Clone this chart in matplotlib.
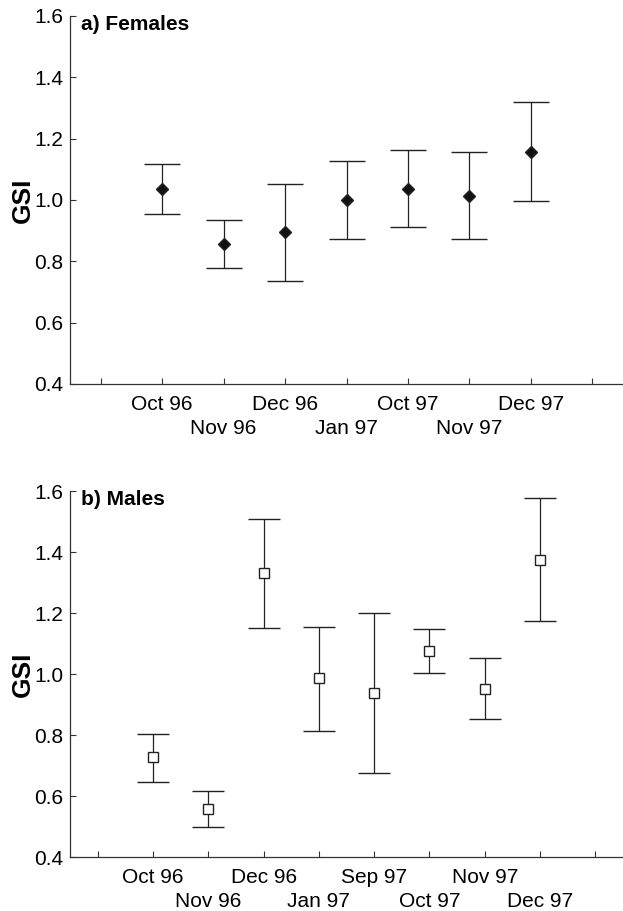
import matplotlib
matplotlib.use("Agg")
import matplotlib.pyplot as plt

plt.rcParams['font.family'] = ['Liberation Sans', 'DejaVu Sans']

# a) Females
fem_labels = ["Oct 96", "Nov 96", "Dec 96", "Jan 97", "Oct 97", "Nov 97", "Dec 97"]
fem_mean = [1.036, 0.855, 0.895, 1.000, 1.037, 1.014, 1.157]
fem_upper = [1.118, 0.935, 1.053, 1.128, 1.163, 1.157, 1.320]
fem_lower = [0.954, 0.779, 0.737, 0.873, 0.912, 0.873, 0.997]

# b) Males
male_labels = ["Oct 96", "Nov 96", "Dec 96", "Jan 97", "Sep 97", "Oct 97", "Nov 97", "Dec 97"]
male_mean = [0.728, 0.558, 1.331, 0.986, 0.939, 1.075, 0.952, 1.375]
male_upper = [0.805, 0.616, 1.509, 1.155, 1.200, 1.148, 1.053, 1.576]
male_lower = [0.648, 0.499, 1.152, 0.814, 0.677, 1.005, 0.852, 1.173]

fig = plt.figure(figsize=(6.23, 9.11), dpi=100)
ax1 = fig.add_axes([0.1124, 0.5785, 0.8876, 0.404])
ax2 = fig.add_axes([0.1124, 0.0589, 0.8876, 0.4021])


def panel(ax, labels, mean, upper, lower, title, marker, face, ms, cap):
    n = len(labels)
    x = list(range(1, n + 1))
    err = [[m - lo for m, lo in zip(mean, lower)], [up - m for m, up in zip(mean, upper)]]
    ax.errorbar(x, mean, yerr=err, fmt=marker, color="#222222", ecolor="#222222",
                mfc=face, mec="#222222", ms=ms, mew=1.0, elinewidth=0.9,
                capsize=cap, capthick=0.9)
    ax.set_xlim(-0.5, n + 1.5)
    ax.set_ylim(0.4, 1.6)
    ax.set_yticks([0.4, 0.6, 0.8, 1.0, 1.2, 1.4, 1.6])
    ax.set_yticklabels(["0.4", "0.6", "0.8", "1.0", "1.2", "1.4", "1.6"])

    # first row of month labels on the major ticks, second row on minor ticks
    ax.xaxis.remove_overlapping_locs = False
    ax.set_xticks(range(0, n + 2))
    row1 = [""] + [lab if i % 2 == 0 else "" for i, lab in enumerate(labels)] + [""]
    ax.set_xticklabels(row1)
    row2_pos = [i + 1 for i in range(n) if i % 2 == 1]
    ax.set_xticks(row2_pos, minor=True)
    ax.set_xticklabels([labels[p - 1] for p in row2_pos], minor=True)

    ax.tick_params(direction="in", length=4, width=0.8, labelsize=15, color="#333333")
    ax.tick_params(axis="x", which="major", pad=8)
    ax.tick_params(axis="x", which="minor", length=0, pad=25, labelsize=15)
    ax.tick_params(axis="y", pad=5)
    for s in ["top", "right"]:
        ax.spines[s].set_visible(False)
    for s in ["left", "bottom"]:
        ax.spines[s].set_linewidth(0.9)
        ax.spines[s].set_color("#333333")
    ax.set_ylabel("GSI", fontsize=19, fontweight="bold")
    ax.yaxis.set_label_coords(-0.064, 0.5)
    ax.text(0.019, 1.003, title, transform=ax.transAxes, fontsize=15,
            fontweight="bold", va="top", ha="left")


panel(ax1, fem_labels, fem_mean, fem_upper, fem_lower, "a) Females", "D", "#111111", 6.5, 12.7)
panel(ax2, male_labels, male_mean, male_upper, male_lower, "b) Males", "s", "white", 7, 11.4)

fig.savefig("out.png", dpi=100)
